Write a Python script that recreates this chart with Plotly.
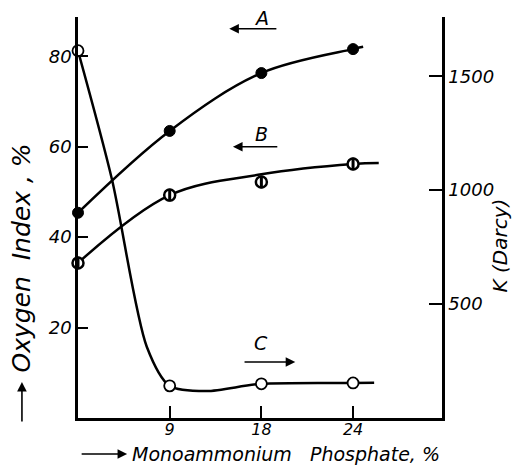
import plotly.graph_objects as go

# ---- data ----
x_pos = [0, 1, 2, 3]                 # equally spaced category positions
x_tick_labels = ["9", "18", "24"]    # monoammonium phosphate, %
x_tick_pos = [1, 2, 3]

A_oxygen = [45.4, 63.5, 76.3, 81.6]  # Oxygen index, % (curve A)
B_oxygen = [34.3, 49.3, 52.2, 56.2]  # Oxygen index, % (curve B)
C_darcy = [1612, 141, 150, 154]      # K (Darcy) (curve C)

# hand-drawn smooth curves (incl. tails past last point)
A_curve_x = [0, 1, 2, 3, 3.11]
A_curve_y = [45.4, 63.5, 76.3, 81.6, 82.1]
B_curve_x = [0, 1, 2, 3, 3.28]
B_curve_y = [34.3, 49.3, 53.9, 56.2, 56.4]
C_curve_x = [0, 0.37, 0.75, 1, 1.4, 2, 3, 3.23]
C_curve_y = [1612, 1048, 313, 141, 118, 150, 154, 155]

left_ticks = [20, 40, 60, 80]
right_ticks = [500, 1000, 1500]

FONT = "DejaVu Sans"
font_it = dict(family=FONT, size=18, color="black", style="italic")

fig = go.Figure()

line_style = dict(color="black", width=2.5, shape="spline", smoothing=1)

fig.add_trace(go.Scatter(x=A_curve_x, y=A_curve_y, mode="lines", line=line_style,
                         showlegend=False, cliponaxis=False, hoverinfo="skip"))
fig.add_trace(go.Scatter(x=B_curve_x, y=B_curve_y, mode="lines", line=line_style,
                         showlegend=False, cliponaxis=False, hoverinfo="skip"))
fig.add_trace(go.Scatter(x=C_curve_x, y=C_curve_y, mode="lines",
                         line=dict(color="black", width=2.5, shape="spline", smoothing=0.8),
                         yaxis="y2", showlegend=False, cliponaxis=False, hoverinfo="skip"))

fig.add_trace(go.Scatter(x=x_pos, y=A_oxygen, mode="markers",
                         marker=dict(symbol="circle", size=11, color="black",
                                     line=dict(color="black", width=1)),
                         showlegend=False, cliponaxis=False))
fig.add_trace(go.Scatter(x=x_pos, y=B_oxygen, mode="markers",
                         marker=dict(symbol="circle", size=11, color="white",
                                     line=dict(color="black", width=2.5)),
                         showlegend=False, cliponaxis=False))
fig.add_trace(go.Scatter(x=x_pos, y=B_oxygen, mode="markers",
                         marker=dict(symbol="line-ns", size=9, color="black",
                                     line=dict(color="black", width=3)),
                         showlegend=False, cliponaxis=False))
fig.add_trace(go.Scatter(x=x_pos, y=C_darcy, mode="markers", yaxis="y2",
                         marker=dict(symbol="circle", size=11, color="white",
                                     line=dict(color="black", width=1.8)),
                         showlegend=False, cliponaxis=False))

annotations = []
# curve labels with arrows
for lab, lx, ly, tx, hx, ay_ in [("A", 2.0, 88.5, 2.18, 1.65, 86.1),
                                  ("B", 2.0, 62.8, 2.19, 1.69, 60.0),
                                  ("C", 2.0, 16.6, 1.80, 2.37, 12.4)]:
    annotations.append(dict(x=lx, y=ly, xref="x", yref="y", text=lab, showarrow=False,
                            xanchor="center", yanchor="middle",
                            font=dict(family=FONT, size=19, color="black", style="italic")))
    annotations.append(dict(x=hx, y=ay_, ax=tx, ay=ay_, xref="x", yref="y",
                            axref="x", ayref="y", text="", showarrow=True,
                            arrowhead=2, arrowsize=1.2, arrowwidth=1.6, arrowcolor="black"))

# axis titles
annotations.append(dict(x=-0.154, y=0.40, xref="paper", yref="paper",
                        xanchor="center", yanchor="middle",
                        text="Oxygen  Index , %", textangle=-90, showarrow=False,
                        font=dict(family=FONT, size=25, color="black", style="italic")))
annotations.append(dict(x=-0.154, y=0.09, xref="paper", yref="paper", text="",
                        showarrow=True, ax=0, ay=41, arrowhead=2, arrowsize=1.2,
                        arrowwidth=1.6, arrowcolor="black"))
annotations.append(dict(x=0.143, y=-0.0898, xref="paper", yref="paper",
                        text="Monoammonium   Phosphate, %", xanchor="left", yanchor="middle",
                        showarrow=False,
                        font=dict(family=FONT, size=19, color="black", style="italic")))
annotations.append(dict(x=0.135, y=-0.0898, xref="paper", yref="paper", text="",
                        showarrow=True, ax=-47, ay=0, arrowhead=2, arrowsize=1.2,
                        arrowwidth=1.6, arrowcolor="black"))
annotations.append(dict(x=1.16, y=0.431, xref="paper", yref="paper",
                        xanchor="center", yanchor="middle",
                        text="K (Darcy)", textangle=-90, showarrow=False,
                        font=dict(family=FONT, size=20, color="black", style="italic")))

fig.update_layout(
    width=514, height=466,
    margin=dict(l=78, r=72, t=17, b=48),
    paper_bgcolor="white", plot_bgcolor="white",
    showlegend=False,
    xaxis=dict(range=[0, 3.97], tickvals=x_tick_pos, ticktext=x_tick_labels,
               ticks="inside", ticklen=12, tickwidth=2, tickcolor="black",
               showline=True, linecolor="black", linewidth=2.5,
               showgrid=False, zeroline=False,
               tickfont=dict(family=FONT, size=16, color="black", style="italic"),
               ticklabelstandoff=-5),
    yaxis=dict(range=[0, 88.7], tickvals=left_ticks,
               ticks="inside", ticklen=10, tickwidth=2, tickcolor="black",
               showline=True, linecolor="black", linewidth=2.5,
               showgrid=False, zeroline=False, tickfont=font_it),
    yaxis2=dict(range=[0, 1760], tickvals=right_ticks, overlaying="y", side="right",
                ticks="inside", ticklen=13, tickwidth=2, tickcolor="black",
                showline=True, linecolor="black", linewidth=2.5,
                showgrid=False, zeroline=False, tickfont=font_it),
    annotations=annotations,
)

fig.write_html("out.html")
